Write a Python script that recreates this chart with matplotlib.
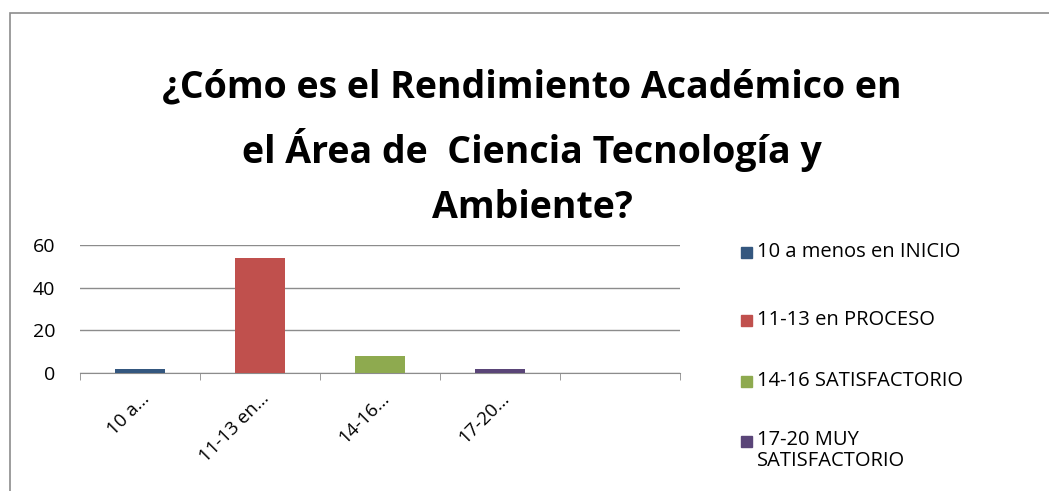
import matplotlib.pyplot as plt
import numpy as np
from matplotlib.patches import Rectangle

categorias = ["10 a…", "11-13 en…", "14-16…", "17-20…", ""]
valores = [2, 54, 8, 2, 0]
leyenda = ["10 a menos en INICIO", "11-13 en PROCESO", "14-16 SATISFACTORIO",
           "17-20 MUY\nSATISFACTORIO"]
colores = ["#34577f", "#c0504d", "#8eaa4f", "#5a4578"]
titulo = "¿Cómo es el Rendimiento Académico en\nel Área de  Ciencia Tecnología y\nAmbiente?"

plt.rcParams['font.family'] = ['Open Sans', 'DejaVu Sans']

W, H = 1049, 491
fig = plt.figure(figsize=(W/100, H/100), dpi=100)
ax = fig.add_axes([80/W, 1-373/H, 600/W, 128/H])

x = np.arange(len(categorias))
ax.bar(x[:4], valores[:4], width=0.41, color=colores, zorder=3)
ax.set_xlim(-0.5, 4.5)
ax.set_ylim(0, 60)
ax.set_yticks([0, 20, 40, 60])
ax.yaxis.grid(True, color="#8c8c8c", linewidth=1, zorder=0)
ax.set_xticks(x)
ax.set_xticklabels(categorias, rotation=45, ha="right", rotation_mode="anchor", fontsize=13.5)
ax.set_xticks(np.arange(-0.5, 5, 1), minor=True)
ax.tick_params(axis="x", which="major", length=0, pad=12)
ax.tick_params(axis="x", which="minor", length=5, color="#8c8c8c")
ax.tick_params(axis="y", length=0, labelsize=14, pad=18)
for s in ["top", "right", "left"]:
    ax.spines[s].set_visible(False)
ax.spines["bottom"].set_color("#8c8c8c")

fig.text(532/W, 1-148/H, titulo, ha="center", va="center", fontsize=27,
         fontweight="bold", linespacing=1.6)

# leyenda
ys = [252, 320, 381, 441]
for c, lab, yy in zip(colores, leyenda, ys):
    fig.patches.append(Rectangle((741/W, 1-(yy+6)/H), 11/W, 11/H,
                                 transform=fig.transFigure, color=c))
    if "\n" in lab:
        fig.text(757/W, 1-(yy-11)/H, lab, ha="left", va="top", fontsize=14.5,
                 linespacing=1.05)
    else:
        fig.text(757/W, 1-yy/H, lab, ha="left", va="center", fontsize=14.5)

fig.patches.append(Rectangle((10/W, -0.1), 1.2, 1.1-13/H, transform=fig.transFigure,
                             fill=False, edgecolor="#8c8c8c", linewidth=1.2))

fig.savefig("out.png", dpi=100)
